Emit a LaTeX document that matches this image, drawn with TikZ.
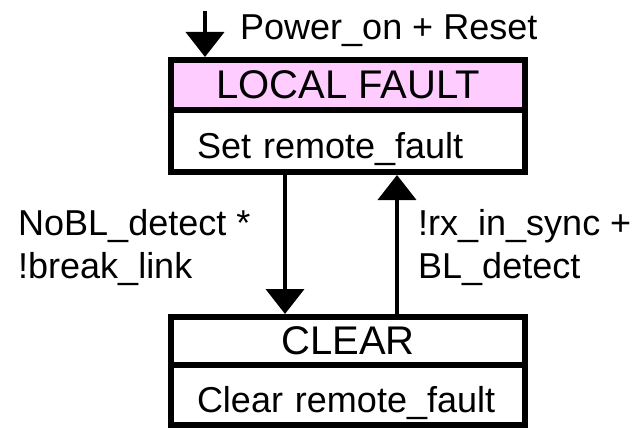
\documentclass[tikz,border=0pt]{standalone}
\usepackage{fontspec}
\setmainfont{Liberation Sans}
\usetikzlibrary{positioning,arrows.meta}
\definecolor{headpink}{HTML}{FFCCFF}
\tikzset{
  statehead/.style={draw, line width=6pt, fill=white, minimum width=354pt, inner sep=0pt, outer sep=0pt, font=\fontsize{40}{48}\selectfont},
  stateact/.style={draw, line width=6pt, fill=white, text width=302pt, inner xsep=26pt, inner ysep=0pt, outer sep=0pt, align=left, text height=34pt, text depth=0pt, font=\fontsize{36}{43}\selectfont},
  trans/.style={line width=4pt, -{Triangle[width=38pt,length=25pt]}, shorten >=3pt},
  lab/.style={align=left, inner sep=0pt, font=\fontsize{36}{43}\selectfont},
}
\begin{document}
\begin{tikzpicture}[x=1pt,y=-1pt]
\useasboundingbox (0,0) rectangle (638,428);
% states
\node[statehead, fill=headpink, minimum height=50pt] (lfhead) at (348,85) {LOCAL FAULT};
\node[stateact, minimum height=62pt, below=0pt of lfhead] (lfact) {Set remote\_fault};
\node[statehead, minimum height=48pt] (clhead) at (348,341) {CLEAR};
\node[stateact, minimum height=60pt, below=0pt of clhead] (clact) {Clear remote\_fault};

% entry
\coordinate (start) at (205,11);
\draw[trans] (start) -- (start |- lfhead.north);
\node[lab, anchor=base west] (powlab) at (240,40) {Power\_on + Reset};

% transitions
\draw[trans] ([xshift=-63pt]lfact.south) -- ([xshift=-63pt]clhead.north);
\draw[trans] ([xshift=49pt]clhead.north) -- ([xshift=49pt]lfact.south);
\node[lab, anchor=west] (downlab) at (18,248) {NoBL\_detect *\\!break\_link};
\node[lab, anchor=west] (uplab) at (418,248) {!rx\_in\_sync +\\BL\_detect};
\end{tikzpicture}
\end{document}
